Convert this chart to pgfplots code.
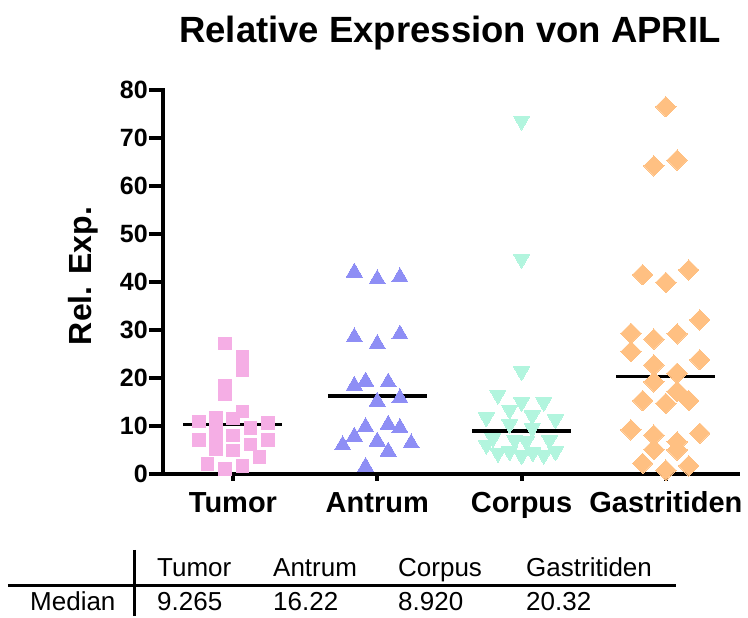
\documentclass[border=0pt]{standalone}
\usepackage{fontspec}
\setmainfont{Liberation Sans}
\usepackage{pgfplots}
\pgfplotsset{compat=1.18}
\definecolor{cTum}{RGB}{245,174,229}
\definecolor{cAnt}{RGB}{142,142,245}
\definecolor{cCor}{RGB}{178,245,222}
\definecolor{cGas}{RGB}{255,192,130}
\begin{document}
\begin{tikzpicture}[x=1pt,y=1pt]
\path[use as bounding box] (-163,-144) rectangle (585,474);
\begin{axis}[
  at={(0pt,0pt)}, anchor=south west,
  scale only axis, width=575pt, height=384pt,
  xmin=0.515, xmax=4.5, ymin=0, ymax=80,
  clip=false,
  axis x line*=bottom, axis y line*=left,
  axis line style={line width=4pt, line cap=rect, -},
  ytick={0,10,...,80},
  xtick={1,2,3,4},
  xticklabels={Tumor,Antrum,Corpus,Gastritiden},
  x tick style={draw=none},
  tick align=outside,
  major tick length=14pt,
  y tick style={line width=4pt, black},
  /pgf/number format/assume math mode=true,
  yticklabel style={font=\fontsize{25}{28}\selectfont\bfseries, anchor=east, inner sep=0pt, xshift=-1pt},
  xticklabel style={font=\fontsize{29}{32}\selectfont\bfseries, anchor=base, yshift=-25pt},
]
% x tick marks
\addplot[ycomb, line width=4pt, black, no marks] coordinates {(1,-1.4) (2,-1.4) (3,-1.4) (4,-1.4)};
% median lines
\addplot[line width=3.5pt, black, no marks] coordinates {(0.657,10.3) (1.343,10.3)};
\addplot[line width=3.5pt, black, no marks] coordinates {(1.657,16.22) (2.343,16.22)};
\addplot[line width=3.5pt, black, no marks] coordinates {(2.657,8.92) (3.343,8.92)};
\addplot[line width=3.5pt, black, no marks] coordinates {(3.657,20.32) (4.343,20.32)};
% Tumor
\addplot[only marks, color=cTum, mark=square*, mark size=6.2pt, mark options={solid, draw=cTum, fill=cTum, line width=0pt}] coordinates {
(0.945,27.2) (1.064,24.4) (1.064,21.5) (0.945,18.3) (0.945,16.5) (1.064,13.0) (0.765,10.9) (0.882,11.7) (1.0,11.5) (1.122,9.6) (1.242,10.6) (0.882,9.3) (0.882,7.8) (1.0,8.0) (0.765,7.1) (1.242,7.1) (1.122,6.2) (0.882,5.1) (1.0,4.9) (1.182,3.5) (0.825,2.1) (1.064,1.7) (0.945,1.0)};
% Antrum
\addplot[only marks, color=cAnt, mark=triangle*, mark size=9.3pt, mark options={solid, draw=cAnt, fill=cAnt, line width=0pt}] coordinates {
(1.841,42.0) (2.0,40.6) (2.157,41.0) (1.841,28.5) (2.0,27.1) (2.157,29.1) (1.841,18.4) (1.919,19.3) (2.076,19.1) (2.0,15.1) (2.157,15.8) (1.919,9.8) (2.076,10.3) (2.157,9.6) (1.841,7.8) (1.760,6.0) (2.0,6.8) (2.235,6.4) (2.076,4.7) (1.919,1.5)};
% Corpus
\addplot[only marks, color=cCor, mark=triangle*, mark size=9.3pt, mark options={solid, draw=cCor, fill=cCor, line width=0pt, rotate=180}] coordinates {
(3.0,73.6) (3.0,44.8) (3.0,21.4) (2.836,16.5) (3.0,15.0) (3.154,15.0) (2.917,13.4) (2.756,11.8) (3.074,12.2) (3.235,11.4) (2.917,10.4) (3.074,9.6) (2.801,7.5) (2.756,6.1) (2.952,7.1) (3.033,6.8) (3.194,7.1) (2.836,4.4) (2.917,4.7) (3.0,3.9) (3.078,4.5) (3.154,4.0) (3.235,4.7)};
% Gastritiden
\addplot[only marks, color=cGas, mark=square*, mark size=7.2pt, mark options={solid, draw=cGas, fill=cGas, line width=0pt, rotate=45}] coordinates {
(4.0,76.5) (3.917,64.2) (4.078,65.4) (3.839,41.5) (4.0,39.9) (4.159,42.5) (4.235,32.1) (3.758,29.3) (3.917,28.1) (4.078,29.2) (3.758,25.5) (4.235,23.8) (3.917,22.7) (4.078,21.0) (3.917,19.2) (4.078,17.2) (4.159,15.3) (3.839,15.3) (4.0,14.7) (3.758,9.2) (4.235,8.5) (3.917,8.1) (4.078,6.7) (3.917,5.1) (4.078,5.0) (3.839,2.2) (4.0,0.8) (4.159,1.7)};
\end{axis}
% title and y label
\node[anchor=base, font=\fontsize{36.5}{40}\selectfont\bfseries] at (287,431) {Relative Expression von APRIL};
\node[rotate=90, font=\fontsize{32}{36}\selectfont\bfseries] at (-80,198) {Rel. Exp.};
% median table
\draw[line width=3pt] (-155,-112) -- (513,-112);
\draw[line width=3pt] (-28,-76) -- (-28,-142);
\begin{scope}[every node/.style={anchor=base west, inner sep=0pt, font=\fontsize{26}{29}\selectfont}]
\node at (-6,-103) {Tumor};
\node at (110,-103) {Antrum};
\node at (235,-103) {Corpus};
\node at (363,-103) {Gastritiden};
\node at (-133,-137) {Median};
\node at (-6,-137) {9.265};
\node at (110,-137) {16.22};
\node at (235,-137) {8.920};
\node at (363,-137) {20.32};
\end{scope}
\end{tikzpicture}
\end{document}
